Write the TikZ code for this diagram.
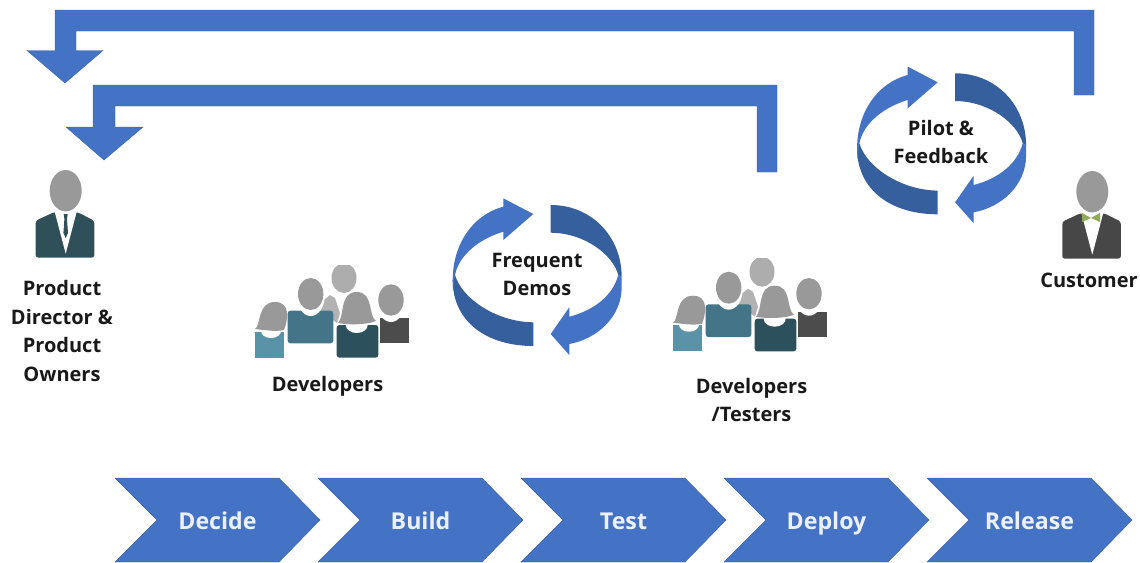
\documentclass[tikz,border=0pt]{standalone}
\usepackage{fontspec}
\setmainfont{Open Sans}
\usetikzlibrary{positioning}
\definecolor{arrowblue}{HTML}{4472C4}
\definecolor{arrowdark}{HTML}{365F9E}
\definecolor{suitdark}{HTML}{2F5059}
\definecolor{suitgray}{HTML}{474747}
\definecolor{shirtteal}{HTML}{447487}
\definecolor{shirtlight}{HTML}{5A92A8}
\definecolor{shirtdark}{HTML}{2C505C}
\definecolor{bowgreen}{HTML}{8FAA5A}
\tikzset{
  bluepart/.style={fill=arrowblue,draw=arrowblue!85!black,line width=.3pt},
  darkpart/.style={fill=arrowdark},
  headgray/.style={fill=black!40},
  caption/.style={font=\bfseries\fontsize{15}{21.5}\selectfont,align=center,text=black!90},
  steplabel/.style={font=\bfseries\fontsize{17.4}{20}\selectfont,text=white!90!arrowblue,text height=1.5ex,text depth=.5ex}
}
\newcommand{\personicon}[2]{%
  \begin{scope}[shift={#1}]
    \fill[#2,rounded corners=2] (-30,67) -- (-30,30) -- (-12,21.6) -- (12,21.6) -- (28.6,30) -- (28.6,67) -- cycle;
    \fill[white] (-11,21) -- (0,63) -- (11,21) -- cycle;
    \fill[headgray] (0,0) ellipse (16 and 20.7);
  \end{scope}}
\newcommand{\groupicon}[1]{%
  \begin{scope}[shift={#1}]
    \begin{scope}
      \clip (70,-93) rectangle (110,-50);
      \fill[black!32] (89,-80) ellipse (12.5 and 15);
    \end{scope}
    \fill[black!30] (65,-55) -- (75,-63) -- (80,-60) -- (85,-45) -- (82,-35) -- (65,-48) -- cycle;
    %% left man
    \fill[shirtteal,rounded corners=2] (32.7,-47.3) rectangle (78.3,-14.7);
    \fill[white] (55.7,-62) ellipse (14 and 20);
    \fill[headgray] (55.7,-64) ellipse (12.7 and 16);
    %% left woman
    \fill[shirtlight] (0,-26.3) rectangle (29.3,-.3);
    \fill[white] (16,-27) ellipse (10 and 7);
    \fill[headgray] (0,-29) .. controls (6,-32) and (2,-56) .. (20,-56) .. controls (36,-56) and (33,-38) .. (29,-28) .. controls (20,-26) and (10,-28) .. cycle;
    %% right woman
    \fill[shirtdark,rounded corners=2] (81.7,-33) rectangle (123.3,-.3);
    \fill[white] (101.7,-33) ellipse (11 and 8);
    \fill[headgray] (83,-35) .. controls (90,-42) and (84,-66) .. (101.7,-66) .. controls (119,-66) and (113,-42) .. (121,-37) .. controls (112,-33) and (92,-33) .. cycle;
    %% right man
    \fill[black!70] (125,-39.7) rectangle (154.3,-14.7);
    \fill[white] (136,-56) ellipse (14 and 20);
    \fill[headgray] (136,-58) ellipse (12.7 and 15.7);
  \end{scope}}
\newcommand{\cycleicon}[1]{%
  \begin{scope}[shift={#1}]
    \fill[darkpart] (-82,-2) .. controls (-75,22) and (-40,45) .. (-3.7,45.3) -- (-3.7,69) .. controls (-50,69) and (-84.3,45) .. (-84.3,3) -- cycle;
    \fill[darkpart] (13.7,-72) .. controls (55,-72) and (84.7,-40) .. (84.7,0) -- (81.3,-2) .. controls (76,-22) and (48,-44) .. (13.7,-44.3) -- cycle;
    \fill[arrowblue] (-3.7,-63) -- (-33.7,-78.7) -- (-33.7,-70.3) .. controls (-65,-62) and (-84.3,-32) .. (-84.3,3) -- (-84,14) -- (-82,-2) .. controls (-78,-22) and (-58,-38) .. (-33.7,-45.3) -- (-33.7,-37) -- cycle;
    \fill[arrowblue] (13.7,57) -- (32.3,30.3) -- (32.3,39.7) .. controls (58,33) and (76,18) .. (81.3,-2) -- (84.7,0) -- (84.7,10) .. controls (84.7,40) and (60,62) .. (32.3,67) -- (32.3,78) -- cycle;
  \end{scope}}

\begin{document}
\begin{tikzpicture}[x=.75pt,y=-.75pt]
  \useasboundingbox (0,0) rectangle (1140,562);

  %% feedback arrows
  \draw[bluepart] (55,10) -- (1094,10) -- (1094,95) -- (1074,95) -- (1074,31) -- (76,31) -- (76,50.5) -- (103,50.5) -- (65,83) -- (27,50.5) -- (55,50.5) -- cycle;
  \draw[bluepart] (93,85) -- (777,85) -- (777,172) -- (757,172) -- (757,106) -- (115,106) -- (115,127) -- (143,127) -- (104,160) -- (66,127) -- (93,127) -- cycle;

  %% people
  \personicon{(65.7,190.7)}{suitdark}
  \fill[suitdark] (63.7,214) -- (67.7,214) -- (67,219) -- (68,233) -- (65.7,238) -- (63.4,233) -- (64.4,219) -- cycle;
  \personicon{(1092.3,191.7)}{suitgray}
  \fill[bowgreen] (1082,213) -- (1091,218) -- (1100,213) -- (1100,222) -- (1091,218) -- (1082,222) -- cycle;
  \groupicon{(255,358)}
  \groupicon{(673,351.7)}

  \cycleicon{(537,277)}
  \cycleicon{(941.4,145.3)}

  \node[caption] (director) at (62,331) {Product\\Director \&\\Product\\Owners};
  \node[caption] (developers) at (327.5,386) {Developers};
  \node[caption] (demos) at (537,274.5) {Frequent\\Demos};
  \node[caption] (testers) at (751.5,400) {Developers\\/Testers};
  \node[caption] (pilot) at (941,142) {Pilot \&\\Feedback};
  \node[caption] (customer) at (1089,280.5) {Customer};

  %% process steps
  \foreach \name/\txt [count=\i from 0] in {decide/Decide,build/Build,test/Test,deploy/Deploy,release/Release} {
    \draw[bluepart,shift={(\i*203,0)}] (115,478) -- (279,478) -- (320,520) -- (279,562) -- (115,562) -- (157,520) -- cycle;
    \node[steplabel] (\name) at (217.5+\i*203,526) {\txt};
  }
\end{tikzpicture}
\end{document}
